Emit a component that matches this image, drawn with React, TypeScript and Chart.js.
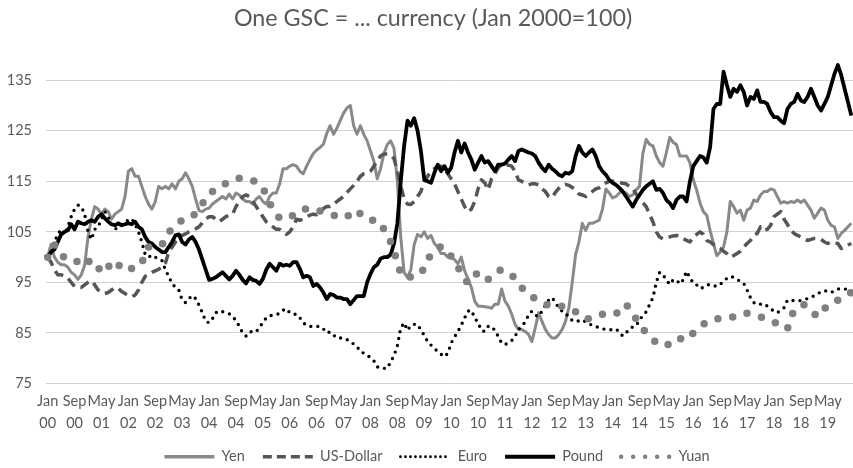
import React, { useEffect, useRef } from 'react';
import { Chart, registerables } from 'chart.js';

Chart.register(...registerables);

// ---------- categories ----------
const MONTH_NAMES = ['Jan', 'Feb', 'Mar', 'Apr', 'May', 'Jun', 'Jul', 'Aug', 'Sep', 'Oct', 'Nov', 'Dec'];
const START_YEAR = 2000;
const YEARS = 20;
const LABEL_EVERY = 8;
const categories: string[] = [];
for (let y = 0; y < YEARS; y++) {
  for (let m = 0; m < 12; m++) {
    categories.push(`${MONTH_NAMES[m]} ${String((START_YEAR + y) % 100).padStart(2, '0')}`);
  }
}
const yTicks = [75, 85, 95, 105, 115, 125, 135];
const Y_MIN = 75;
const Y_MAX = 140;

// ---------- series (monthly, Jan 2000 - Dec 2019) ----------
const yen = [
  100, 102.5, 100, 99, 98.5, 98.5, 98, 97, 96.5, 95.6, 96.5, 98.4,
  104, 107.5, 110, 109.5, 108.5, 109.5, 109, 107.5, 108.5, 109, 109.5, 112,
  117, 117.5, 116, 116, 114, 112, 110.5, 109.5, 111, 114, 113.5, 114,
  113.5, 114.5, 113.5, 115, 115.5, 116.7, 115.5, 114, 111.5, 109.2, 109, 109.5,
  109.7, 110.5, 111, 111.5, 112, 111.5, 112.5, 111.5, 112.7, 112.3, 111.5, 111,
  111, 110.5, 111.5, 112, 111, 110.5, 112, 112.7, 112.7, 114.5, 117.5, 117.5,
  118, 118.3, 118, 117, 116.5, 118, 119.3, 120.5, 121.2, 121.7, 122.3, 124.5,
  126, 124.3, 125.5, 127, 128.5, 129.5, 130, 126, 124.3, 126, 124.3, 123,
  121, 119, 115.5, 117.5, 120.5, 122.3, 123, 121.5, 115, 104, 97, 96,
  97.5, 102.5, 104.5, 104, 105, 103.7, 104.3, 102.7, 102, 100.7, 100.7, 100,
  100, 99.5, 98.7, 100, 97.3, 95.7, 94, 91.3, 90.3, 90.3, 90.2, 90.1,
  89.9, 90.7, 90.7, 93.7, 91.3, 90.3, 88.7, 86.7, 85.7, 85.7, 85.3, 84.7,
  83.3, 86, 89, 87.3, 85.7, 84.7, 84, 84, 84.7, 85.7, 87.3, 90,
  95, 100.5, 103, 106.7, 105.3, 106.7, 106.7, 107, 107.3, 109.5, 113.5, 112.7,
  111.7, 112, 112.7, 113, 112.7, 112, 112.3, 113.3, 114, 120.5, 123.3, 122.3,
  122, 120, 118.7, 118, 120.7, 123.7, 122.7, 122.3, 120, 120, 120, 118.7,
  115.3, 113.3, 110.7, 109, 108.3, 105.3, 102.7, 100.3, 101, 102, 105, 111,
  110, 108.7, 109.3, 107.3, 109.3, 109.7, 111.3, 111, 112.3, 113, 113, 113.5,
  113.3, 112, 110.7, 111, 110.7, 111, 110.8, 111.3, 110.8, 111.3, 110.3, 109.3,
  107.7, 108.7, 109.7, 109.3, 107.3, 106.3, 106, 103.7, 104.7, 105.3, 106, 106.7,
];

const usDollar = [
  100, 99, 97.5, 96.5, 96.5, 96.3, 95.8, 95, 94.2, 94, 94, 94.5,
  95, 95.3, 94.5, 93.5, 93.2, 92.8, 93, 93.5, 94, 93.8, 93.2, 92.8,
  92.4, 92.2, 92.5, 93.5, 95, 96.2, 96.5, 97, 97.3, 97.6, 98, 98.8,
  101, 102, 103, 103.8, 104.3, 104.6, 105, 105.3, 105.6, 106, 106.8, 107.5,
  108, 108, 107.5, 107, 107.5, 108, 108.3, 108.5, 110, 111, 112, 112.3,
  112, 111, 110, 109, 108, 107, 106.5, 106, 105.5, 105.5, 105, 104.5,
  105, 106, 107.5, 107.3, 107.5, 108, 108.3, 108.5, 108.4, 109, 109.6, 110,
  110, 110.5, 111, 111.5, 112, 112.8, 113.5, 114.2, 115, 116, 116.5, 116.6,
  117, 118, 119, 120, 120.4, 120.4, 120.2, 119.5, 117, 114, 111.6, 110.5,
  110.4, 111, 112, 113, 115, 116, 117, 117.5, 118, 118, 117.5, 116.5,
  115.5, 114.5, 113, 111.5, 110, 109, 109.5, 111, 113.5, 115.3, 114.7, 113.3,
  115.5, 116.5, 117.7, 118.3, 118.3, 118.2, 118, 117, 115.3, 115, 114.7, 114.3,
  114.5, 114.5, 114.3, 113.5, 113, 112, 111.8, 112.8, 113.6, 114.2, 114.4, 114.2,
  113.8, 113.3, 112.5, 112.3, 112, 112.5, 113, 113.5, 113.7, 114.3, 114.7, 115,
  115, 115, 114.8, 114.6, 114.5, 114, 113.6, 112.5, 111.6, 110.8, 110, 108.5,
  107, 105, 104, 103.6, 103.8, 104, 104.2, 104.3, 104, 103.7, 103.3, 103,
  104, 104.5, 105, 104.5, 103.3, 103, 102.5, 102, 101.7, 101.2, 100.7, 100,
  100.3, 100.7, 101.2, 102, 102.7, 103.3, 104.3, 104.7, 106, 105.3, 105.5, 106.3,
  108, 108.5, 109, 107.5, 106.5, 105.3, 104.7, 104.3, 104, 103.6, 103.3, 103.5,
  103.7, 103.7, 103.5, 103, 102.7, 103, 102.8, 102.7, 101.7, 102, 102.4, 102.7,
];

const euro = [
  100, 101, 103, 104.5, 105.5, 104.5, 106, 108, 109.5, 110.3, 110, 108.5,
  105, 103.5, 105.5, 106, 107.5, 109, 108, 106.5, 105.5, 106, 106.5, 107,
  107.3, 107.6, 106.5, 105, 103, 100.5, 100, 100.4, 100, 99.6, 99.3, 97.5,
  96.2, 94.8, 94, 93.5, 91.5, 91, 91.8, 92.4, 91.8, 90.5, 89, 87.3,
  87, 87.8, 89, 89.4, 89.2, 89, 88.8, 88.2, 87.5, 86.3, 85, 84.4,
  85.2, 85.3, 85.2, 86.2, 87, 88, 88.4, 88.5, 88.6, 88.9, 89.5, 89.8,
  89, 88.7, 88.7, 88, 87, 86.5, 86.3, 86.3, 86.3, 86.3, 85.8, 85,
  85.2, 84.6, 84, 84, 84, 83.7, 83.3, 82.8, 82.3, 81.3, 81, 80.7,
  80, 79.5, 78.3, 78, 78, 78, 79.3, 80.5, 82.5, 86, 87, 85.5,
  86.5, 86.7, 86.7, 85.6, 84.5, 83.3, 82.6, 82, 81.3, 80.8, 80.3, 81,
  83, 84.2, 85.3, 86.5, 88, 89.3, 89.5, 88, 87, 85.5, 85.3, 86.3,
  86.3, 85.5, 84.3, 83, 82.7, 83, 83.5, 84.3, 85.7, 86.3, 87.2, 88.5,
  89.3, 88.5, 88.3, 89.3, 90.5, 91.5, 92, 91, 90, 89.3, 89, 88,
  87.5, 87.2, 87.4, 87.6, 87.2, 86.8, 86.5, 86.3, 86, 85.8, 85.7, 85.6,
  85.7, 85.8, 85.2, 84.4, 85, 85.8, 86.2, 86.4, 87.6, 88.4, 89.2, 90.6,
  92, 95, 97, 96.5, 95.5, 94.6, 95.5, 95.5, 94.7, 95.5, 97.2, 96,
  94.8, 94.5, 93.8, 94, 94.5, 94.6, 94.4, 94.2, 94.6, 95.2, 95.8, 96.2,
  96, 95.6, 95.2, 94.8, 93.5, 92, 91, 90.6, 90.7, 90.8, 90.3, 89.8,
  89.3, 89, 89.5, 90, 91.5, 91.5, 91.4, 91.4, 91.4, 91.6, 91.8, 92,
  92.4, 92.8, 93.1, 93.4, 93.2, 93, 93.4, 93.7, 93.8, 93.7, 93.6, 93.6,
];

const pound = [
  100, 101, 101.5, 103, 104.5, 105, 105.3, 106.5, 105.5, 107, 106.7, 106.5,
  107, 107.3, 107, 108, 108.5, 107.7, 107, 106.5, 106.3, 106.7, 106.3, 106.5,
  106.7, 106.5, 107, 106, 105.5, 104, 103, 102.7, 102, 101.5, 101, 101,
  102, 103, 104.3, 104.5, 103, 102.5, 103.5, 104, 103, 101.5, 99.5, 97.5,
  95.5, 95.7, 96, 96.5, 97, 96.3, 95.6, 96.3, 97.3, 96.5, 95.5, 94.8,
  96, 95.5, 95.3, 94.7, 95.7, 97.5, 98.7, 98, 97.3, 98.7, 98.3, 98.5,
  98.3, 99, 99, 97.7, 96, 96.3, 96, 94.3, 94.7, 94, 93, 91.7,
  92.7, 92.5, 92, 92, 91.7, 91.7, 90.7, 91.5, 92.3, 92.3, 92.3, 95,
  96.7, 98, 98.5, 99.7, 100, 100, 100.5, 102.7, 106.7, 115, 122, 127,
  126, 127.5, 125, 121, 115.3, 115, 114.7, 116.7, 118.3, 117, 118, 116.7,
  117.7, 120.7, 123, 120.7, 122.5, 120.7, 119.3, 117.3, 118.7, 120, 118.7, 119,
  118, 117, 118.3, 118.3, 118.5, 119.3, 120, 119, 121, 121.3, 121, 120.7,
  120.5, 120, 118.7, 117.7, 117, 118.3, 117.5, 117, 116.3, 116, 116.7, 116.5,
  117, 120, 122, 120.7, 120, 120.7, 121.3, 120, 118, 117, 116.3, 115.3,
  114.7, 114.3, 113.7, 113, 112, 111, 110, 111.3, 112.3, 113.3, 114, 114.5,
  115, 113.3, 113.5, 112.7, 111.3, 110.7, 109.7, 111.3, 112, 112, 111, 115,
  118, 119, 120, 119.7, 118.7, 121.7, 129.3, 130.3, 130.3, 136.7, 134, 131.7,
  133.3, 132.7, 134, 132.7, 130, 131.7, 131.3, 133, 130.7, 130.7, 130.3, 128.7,
  127.7, 127.7, 127, 126.5, 129.3, 130.3, 130.7, 132.3, 131, 130.7, 131.7, 133.3,
  131.7, 130, 129, 130.3, 131.7, 134, 136.3, 138, 136, 133.3, 130.7, 128,
];

const yuan = [
  100, 101.5, 102.5, 101.5, 100.3, 100, 100, 100, 99.5, 99, 98.3, 98.5,
  99, 99.5, 99, 98, 97, 97, 98, 99, 99.3, 98.5, 97.8, 97.4,
  97.3, 97.8, 98.3, 98.7, 98.7, 101, 102, 102, 102.2, 102.3, 102.4, 104,
  105, 105.5, 106.3, 107, 107.2, 107.4, 107.5, 108, 108.7, 109.5, 110.5, 111.7,
  112.3, 113, 113.3, 113.8, 114.2, 114.6, 115, 115.3, 115.5, 115.6, 115.6, 115.5,
  115.3, 115.2, 114.8, 114.2, 113.7, 112.2, 110.7, 109.5, 108.5, 107.7, 107.7, 107.7,
  107.7, 108.3, 108.8, 109.2, 109.4, 109.6, 109.7, 109.5, 109.3, 109.1, 109, 108.8,
  108.5, 108.3, 108.1, 107.9, 107.7, 108, 108.5, 109, 109.3, 108.5, 107.8, 107.5,
  107.3, 107.3, 107.3, 106.5, 105.5, 104.8, 103, 101.4, 98.5, 97, 96, 95.9,
  96.1, 96.3, 96.5, 96.7, 98, 99.5, 100.5, 101.3, 101.8, 102.1, 101.5, 100.5,
  100.2, 99, 98, 97, 95.8, 94.8, 95.5, 96.3, 97, 96.5, 95.9, 95.6,
  96.2, 96.8, 97.3, 97.5, 97.3, 96.8, 96.3, 95.9, 95, 94, 93.2, 92.7,
  92.2, 91.8, 91.5, 91.1, 90.8, 90.4, 90.3, 90.3, 90.3, 90.3, 90.1, 89.8,
  89.5, 89.2, 88.8, 88.2, 87.8, 87.8, 88, 88.3, 88.6, 88.7, 88.7, 88.7,
  88.7, 88.7, 89.5, 90.2, 90.7, 89.8, 88.6, 87.8, 86.8, 85.8, 85.1, 84.3,
  83.6, 83.2, 82.8, 82.6, 82.4, 83, 83.6, 84, 83.9, 83.7, 83.6, 84.2,
  85, 85.6, 86.2, 86.7, 87.2, 87.5, 87.7, 87.8, 87.9, 88, 87.9, 88,
  88.2, 88.5, 88.7, 88.9, 88.9, 88.8, 88.6, 88.4, 88.2, 87.9, 87.6, 87.3,
  87.2, 86.8, 86.4, 86, 85.8, 88, 89.5, 90, 90.4, 90.6, 90.2, 89.5,
  88.8, 88.2, 89, 89.8, 90.3, 90.5, 91, 91.5, 91.9, 92.4, 92.8, 93,
];

const TITLE = 'One GSC = ... currency (Jan 2000=100)';
const FONT = 'Lato, "Noto Sans", sans-serif';
const TEXT = '#595959';

type SeriesStyle = {
  label: string;
  data: number[];
  color: string;
  width: number;
  dash: number[];
  cap: 'butt' | 'round';
  legendWidth: number;
  legendDash: number[];
};

const SERIES: SeriesStyle[] = [
  { label: 'Yen', data: yen, color: '#898989', width: 3, dash: [], cap: 'butt', legendWidth: 3.5, legendDash: [] },
  { label: 'US-Dollar', data: usDollar, color: '#555555', width: 3.5, dash: [10, 6], cap: 'butt', legendWidth: 3.5, legendDash: [9, 5] },
  { label: 'Euro', data: euro, color: '#000000', width: 3.4, dash: [0, 7], cap: 'round', legendWidth: 2.8, legendDash: [0, 5] },
  { label: 'Pound', data: pound, color: '#000000', width: 3.8, dash: [], cap: 'butt', legendWidth: 4, legendDash: [] },
  { label: 'Yuan', data: yuan, color: '#808080', width: 7.5, dash: [0, 15], cap: 'round', legendWidth: 4.5, legendDash: [0, 12] },
];

// nudges the full-width title / legend boxes so they are centred like the reference
const centreShift = {
  id: 'centreShift',
  afterLayout(chart: any) {
    if (chart.legend) {
      chart.legend.left += 7;
      chart.legend.right += 7;
    }
    if (chart.titleBlock) {
      chart.titleBlock.left += 3;
      chart.titleBlock.right += 3;
    }
  },
};

export default function App() {
  const ref = useRef<HTMLCanvasElement | null>(null);

  useEffect(() => {
    if (!ref.current) return;
    const chart = new Chart(ref.current, {
      type: 'line',
      data: {
        labels: categories,
        datasets: SERIES.map((s, i) => ({
          label: s.label,
          data: s.data,
          borderColor: s.color,
          backgroundColor: s.color,
          borderWidth: s.width,
          borderDash: s.dash,
          borderCapStyle: s.cap,
          borderJoinStyle: 'round',
          pointRadius: 0,
          pointHoverRadius: 0,
          tension: 0,
          fill: false,
          order: SERIES.length - i,
        })),
      },
      plugins: [centreShift],
      options: {
        animation: false,
        responsive: false,
        devicePixelRatio: 1,
        events: [],
        layout: { padding: { left: 7, right: 0, top: 0, bottom: -6 } },
        plugins: {
          title: {
            display: true,
            text: TITLE,
            color: TEXT,
            font: { family: FONT, size: 23.3, weight: 'normal', lineHeight: 1.2 },
            padding: { top: 4, bottom: 23 },
          },
          legend: {
            position: 'bottom',
            labels: {
              usePointStyle: true,
              pointStyle: 'line',
              pointStyleWidth: 50,
              color: TEXT,
              font: { family: FONT, size: 14.5 },
              padding: 18,
              generateLabels: () =>
                SERIES.map((s, i) => ({
                  text: s.label,
                  fillStyle: s.color,
                  strokeStyle: s.color,
                  fontColor: TEXT,
                  lineWidth: s.legendWidth,
                  lineDash: s.legendDash,
                  lineCap: s.cap,
                  lineJoin: 'round',
                  pointStyle: 'line',
                  hidden: false,
                  datasetIndex: i,
                })),
            },
          },
          tooltip: { enabled: false },
        },
        scales: {
          x: {
            type: 'category',
            offset: true,
            grid: { display: false, drawTicks: false },
            border: { display: false },
            afterFit: (axis: any) => {
              axis.height = 48;
            },
            ticks: {
              autoSkip: false,
              maxRotation: 0,
              minRotation: 0,
              color: TEXT,
              padding: 7,
              font: { family: FONT, size: 14.5, lineHeight: 1.5 },
              callback: (_v: any, i: number) =>
                i % LABEL_EVERY === 0
                  ? [MONTH_NAMES[i % 12], String((START_YEAR + Math.floor(i / 12)) % 100).padStart(2, '0')]
                  : null,
            },
          },
          y: {
            min: Y_MIN,
            max: Y_MAX,
            afterBuildTicks: (axis: any) => {
              axis.ticks = yTicks.map((v) => ({ value: v }));
            },
            afterFit: (axis: any) => {
              axis.width = 39;
            },
            grid: { color: '#d0d0d0', lineWidth: 1, drawTicks: false },
            border: { display: false },
            ticks: { color: TEXT, padding: 14, font: { family: FONT, size: 14.5 } },
          },
        },
      },
    } as any);
    return () => chart.destroy();
  }, []);

  return (
    <div style={{ position: 'fixed', left: 0, top: 0, width: 853, height: 468, background: '#fff' }}>
      <canvas ref={ref} width={853} height={468} style={{ width: 853, height: 468, display: 'block' }} />
    </div>
  );
}
